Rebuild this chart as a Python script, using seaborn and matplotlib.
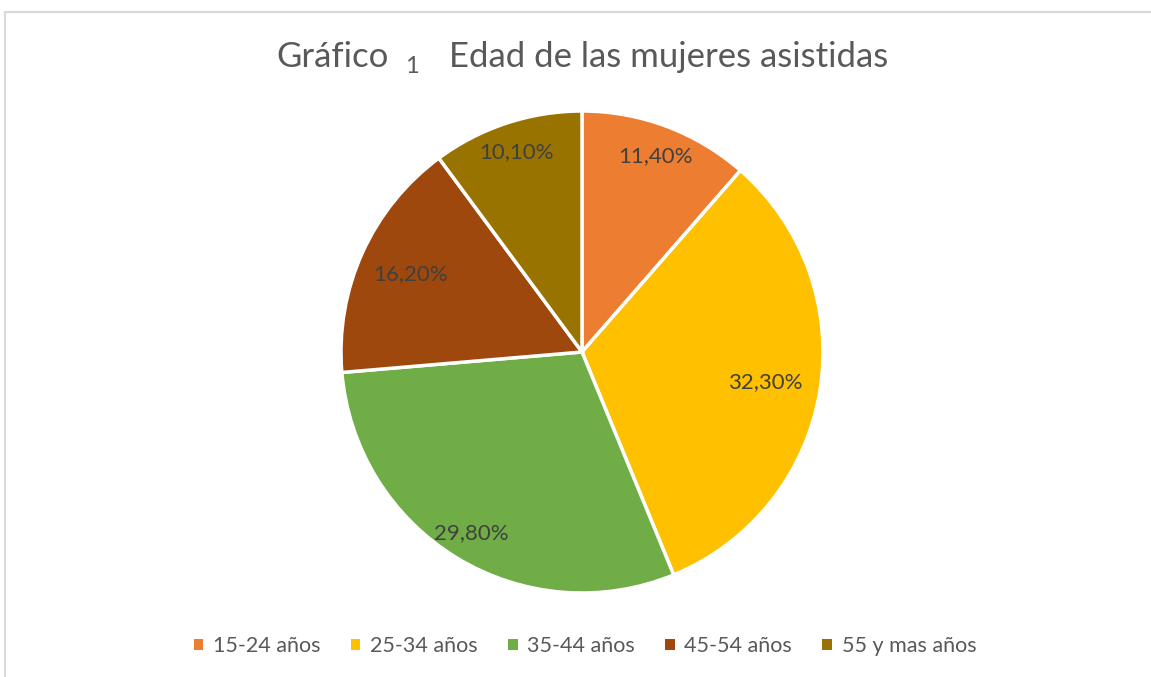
import matplotlib.pyplot as plt
import matplotlib.patches as mpatches
import numpy as np
import seaborn as sns

categories = ["15-24 años", "25-34 años", "35-44 años", "45-54 años", "55 y mas años"]
values = [11.4, 32.3, 29.8, 16.2, 10.1]
value_labels = ["11,40%", "32,30%", "29,80%", "16,20%", "10,10%"]
colors = ["#ED7D31", "#FFC000", "#70AD47", "#9E480E", "#997300"]

sns.set_theme(style="white")
plt.rcParams['font.family'] = ['Lato', 'DejaVu Sans']

W, H = 1151, 677
fig = plt.figure(figsize=(W / 100, H / 100), dpi=100)

# frame lines (top and left only, like the screenshot)
fig.add_artist(plt.Line2D([5 / W, 1], [1 - 12 / H, 1 - 12 / H], color="#d9d9d9", lw=1.5))
fig.add_artist(plt.Line2D([5 / W, 5 / W], [0, 1 - 12 / H], color="#d9d9d9", lw=1.5))

cx, cy, r = 582, 352, 241
ax = fig.add_axes([(cx - r) / W, (H - cy - r) / H, 2 * r / W, 2 * r / H])
wedges, _ = ax.pie(values, colors=colors, startangle=90, counterclock=False,
                   wedgeprops=dict(edgecolor="white", linewidth=2.5))
ax.set_xlim(-1, 1)
ax.set_ylim(-1, 1)
ax.axis("off")

# data labels, Excel "best fit" style distances
dist = [0.87, 0.77, 0.88, 0.78, 0.875]
for w, lab, d in zip(wedges, value_labels, dist):
    ang = np.deg2rad((w.theta1 + w.theta2) / 2)
    ax.text(d * np.cos(ang), d * np.sin(ang), lab, ha="center", va="center",
            fontsize=16, color="#404040")

# title with the lowered "1"
tc = "#595959"
fig.text(276 / W, 1 - 67 / H, "Gráfico", fontsize=25, color=tc, ha="left", va="baseline")
fig.text(405 / W, 1 - 73 / H, "1", fontsize=17, color=tc, ha="left", va="baseline")
fig.text(449 / W, 1 - 67 / H, "Edad de las mujeres asistidas", fontsize=25, color=tc,
         ha="left", va="baseline")

handles = [mpatches.Patch(facecolor=c, edgecolor="none") for c in colors]
fig.legend(handles, categories, ncol=5, loc="center", bbox_to_anchor=(585 / W, 1 - 646 / H),
           frameon=False, fontsize=15.5, labelcolor=tc, handlelength=0.45, handleheight=0.45,
           handletextpad=0.45, columnspacing=1.4)

fig.savefig("out.png", dpi=100, facecolor="white")
